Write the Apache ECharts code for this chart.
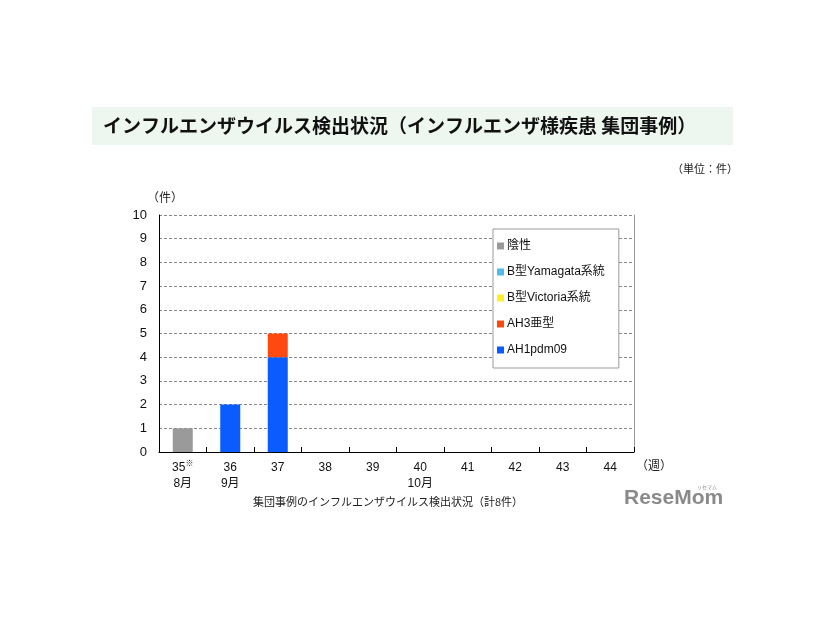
<!DOCTYPE html>
<html><head><meta charset="utf-8">
<script src="https://cdn.jsdelivr.net/npm/echarts@6/dist/echarts.min.js"></script>
<style>html,body{margin:0;padding:0;background:#fff}#c{width:826px;height:620px}</style>
</head><body><div id="c"></div>
<script>
const weeks = ['35','36','37','38','39','40','41','42','43','44'];
const weekMarks = ['※','','','','','','','','',''];
const months = ['8月','9月','','','','10月','','','',''];
const yTicks = [0,1,2,3,4,5,6,7,8,9,10];
const negative = [1,0,0,0,0,0,0,0,0,0];
const bYamagata = [0,0,0,0,0,0,0,0,0,0];
const bVictoria = [0,0,0,0,0,0,0,0,0,0];
const ah3 = [0,0,1,0,0,0,0,0,0,0];
const ah1pdm09 = [0,2,4,0,0,0,0,0,0,0];
const legendOrder = ['陰性','B型Yamagata系統','B型Victoria系統','AH3亜型','AH1pdm09'];

const FONT = '"Liberation Sans", Arial, "Noto Sans CJK JP", sans-serif';
const chart = echarts.init(document.getElementById('c'), null, {renderer:'canvas'});
function s(name, data, color){
  return {name, type:'bar', stack:'a', data, barWidth:20,
    itemStyle:{color}};
}
chart.setOption({
  animation:false,
  textStyle:{fontFamily:FONT},
  grid:{left:159, right:192, top:215, bottom:168, containLabel:false},
  graphic:[
    {type:'rect', shape:{x:92,y:107,width:641,height:38}, style:{fill:'#eef6f0'}, z:-1},
    {type:'text', left:103, top:116, style:{text:'インフルエンザウイルス検出状況（インフルエンザ様疾患 集団事例）', font:'bold 19px "Noto Sans CJK JP", sans-serif', fill:'#111'}},
    {type:'text', left:672, top:163, style:{text:'（単位：件）', font:'11px "Noto Sans CJK JP", sans-serif', fill:'#222'}},
    {type:'text', left:636, top:459, style:{text:'（週）', font:'12px "Noto Sans CJK JP", sans-serif', fill:'#222'}},
    {type:'text', left:147, top:191, style:{text:'（件）', font:'12px "Noto Sans CJK JP", sans-serif', fill:'#222'}},
    {type:'text', left:253, top:496, style:{text:'集団事例のインフルエンザウイルス検出状況（計8件）', font:'11px "Noto Sans CJK JP", sans-serif', fill:'#222'}},
    {type:'text', left:624, top:488, style:{text:'ReseMom', font:'bold 21px "Liberation Sans", Arial, sans-serif', fill:'#8a8a8a'}},
    {type:'text', left:697, top:485, style:{text:'リセマム', font:'5px "Noto Sans CJK JP", sans-serif', fill:'#8a8a8a'}}
  ],
  legend:{
    data:legendOrder, orient:'vertical', left:493, top:229,
    backgroundColor:'#fff', borderColor:'#999', borderWidth:1,
    padding:[11,14,12,4], itemGap:14, itemWidth:7, itemHeight:7, icon:'rect',
    textStyle:{fontSize:12, color:'#111', fontFamily:FONT, padding:[0,0,0,-2]}
  },
  xAxis:{
    type:'category', data:weeks,
    axisLine:{lineStyle:{color:'#000', width:1}},
    axisTick:{show:true, inside:true, length:5, interval:0, lineStyle:{color:'#000'}},
    axisLabel:{interval:0, color:'#111', fontSize:12, margin:8, lineHeight:16,
      formatter:(v,i)=> '{w|'+v+'}' + (weekMarks[i]?'{m|'+weekMarks[i]+'}':'') + '\n{mo|'+(months[i]||' ')+'}',
      rich:{w:{fontSize:12, fontFamily:FONT, color:'#111'}, m:{fontSize:8, verticalAlign:'top', color:'#111', padding:[0,0,6,0]}, mo:{fontSize:12, fontFamily:FONT, color:'#111', lineHeight:16}}
    },
    z:10
  },
  yAxis:[{
    type:'value', min:0, max:10, interval:1,
    axisLine:{show:true, lineStyle:{color:'#000'}},
    axisTick:{show:false},
    axisLabel:{color:'#111', fontSize:13, margin:12, formatter:v=> yTicks.includes(v)? String(v):''},
    splitLine:{show:true, lineStyle:{color:'#888', type:[3,2], width:1}}
  },{
    type:'value', min:0, max:10, interval:1, position:'right',
    axisLine:{show:true, lineStyle:{color:'#999'}},
    axisTick:{show:false}, axisLabel:{show:false}, splitLine:{show:false}
  }],
  series:[
    s('AH1pdm09', ah1pdm09, '#0a5cff'),
    s('AH3亜型', ah3, '#ff4a0f'),
    s('B型Victoria系統', bVictoria, '#ffef2a'),
    s('B型Yamagata系統', bYamagata, '#55b8e8'),
    s('陰性', negative, '#9a9a9a')
  ]
});
</script></body></html>
